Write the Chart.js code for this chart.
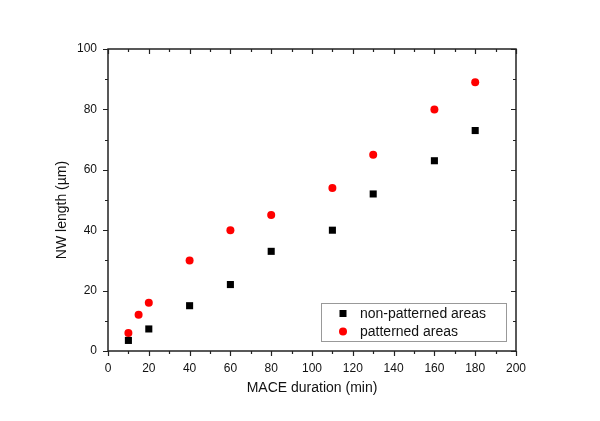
<!DOCTYPE html>
<html>
<head>
<meta charset="utf-8">
<script src="https://cdn.jsdelivr.net/npm/chart.js@4/dist/chart.umd.min.js"></script>
<style>
html,body{margin:0;padding:0;background:#fff;}
#wrap{width:600px;height:421px;}
</style>
</head>
<body>
<div id="wrap"><canvas id="c" width="600" height="421"></canvas></div>
<script>
// Data
const nonPatternedX = [10, 20, 40, 60, 80, 110, 130, 160, 180];
const nonPatternedY = [3.5, 7.3, 15, 22, 33, 40, 52, 63, 73];
const patternedX = [10, 15, 20, 40, 60, 80, 110, 130, 160, 180];
const patternedY = [6, 12, 16, 30, 40, 45, 54, 65, 80, 89];
const xTicks = [0, 20, 40, 60, 80, 100, 120, 140, 160, 180, 200];
const yTicks = [0, 20, 40, 60, 80, 100];
const seriesNames = ['non-patterned areas', 'patterned areas'];
const xTitle = 'MACE duration (min)';
const yTitle = 'NW length (\u00b5m)';

const FONT = "'Liberation Sans', Arial, sans-serif";

const framePlugin = {
  id: 'frame',
  afterDatasetsDraw(chart) {
    const ctx = chart.ctx;
    const a = chart.chartArea;
    const xs = chart.scales.x, ys = chart.scales.y;
    ctx.save();
    ctx.strokeStyle = '#222';
    ctx.lineWidth = 1.5;
    ctx.strokeRect(a.left, a.top, a.right - a.left, a.bottom - a.top);
    ctx.lineWidth = 1.2;
    ctx.beginPath();
    // x ticks (major every 20, minor every 10)
    for (let v = xs.min; v <= xs.max; v += 10) {
      const px = Math.round(xs.getPixelForValue(v)) + 0.5;
      const major = (v % 20 === 0);
      const len = major ? 5 : 3;
      ctx.moveTo(px, a.bottom); ctx.lineTo(px, a.bottom + len);
      ctx.moveTo(px, a.top); ctx.lineTo(px, a.top + len);
    }
    for (let v = ys.min; v <= ys.max; v += 10) {
      const py = Math.round(ys.getPixelForValue(v)) + 0.5;
      const major = (v % 20 === 0);
      const len = major ? 5 : 3;
      ctx.moveTo(a.left, py); ctx.lineTo(a.left - len, py);
      ctx.moveTo(a.right, py); ctx.lineTo(a.right - len, py);
    }
    ctx.stroke();

    // y title
    ctx.fillStyle = '#111';
    ctx.font = '14px ' + FONT;
    ctx.textAlign = 'center';
    ctx.textBaseline = 'middle';
    ctx.save();
    ctx.translate(62, 210);
    ctx.rotate(-Math.PI / 2);
    ctx.fillText(yTitle, 0, 0);
    ctx.restore();

    // legend
    const lx = 321, ly = 303, lw = 185, lh = 38;
    ctx.strokeStyle = '#999';
    ctx.lineWidth = 1;
    ctx.strokeRect(lx + 0.5, ly + 0.5, lw, lh);
    ctx.textAlign = 'left';
    ctx.font = '14px ' + FONT;
    const rows = [313.5, 331.5];
    chart.data.datasets.forEach((ds, i) => {
      const y = rows[i];
      ctx.fillStyle = ds.backgroundColor;
      if (ds.pointStyle === 'rect') {
        ctx.fillRect(339.5, y - 3.5, 7, 7);
      } else {
        ctx.beginPath();
        ctx.arc(343, y, 4, 0, Math.PI * 2);
        ctx.fill();
      }
      ctx.fillStyle = '#111';
      ctx.fillText(ds.label, 360, y + 1);
    });
    ctx.restore();
  }
};

new Chart(document.getElementById('c'), {
  type: 'scatter',
  data: {
    datasets: [
      {
        label: seriesNames[0],
        data: nonPatternedX.map((x, i) => ({x: x, y: nonPatternedY[i]})),
        pointStyle: 'rect',
        pointRadius: 5,
        pointHoverRadius: 5,
        backgroundColor: '#000',
        borderColor: '#000',
        borderWidth: 0
      },
      {
        label: seriesNames[1],
        data: patternedX.map((x, i) => ({x: x, y: patternedY[i]})),
        pointStyle: 'circle',
        pointRadius: 4,
        pointHoverRadius: 4,
        backgroundColor: '#ff0000',
        borderColor: '#ff0000',
        borderWidth: 0
      }
    ]
  },
  options: {
    responsive: false,
    animation: false,
    devicePixelRatio: 1,
    layout: {padding: {left: 0, right: 84, top: 49, bottom: 0}},
    plugins: {legend: {display: false}, tooltip: {enabled: false}},
    scales: {
      x: {
        type: 'linear', min: 0, max: 200,
        afterBuildTicks: s => { s.ticks = xTicks.map(v => ({value: v})); },
        afterFit: s => { s.height = 70; },
        grid: {display: false, drawTicks: false},
        border: {display: false},
        ticks: {color: '#111', font: {family: FONT, size: 12}, padding: 10, maxRotation: 0, autoSkip: false},
        title: {display: true, text: xTitle, color: '#111', font: {family: FONT, size: 14}, padding: {top: 0, bottom: 24}}
      },
      y: {
        type: 'linear', min: 0, max: 100,
        afterBuildTicks: s => { s.ticks = yTicks.map(v => ({value: v})); },
        afterFit: s => { s.width = 108; },
        grid: {display: false, drawTicks: false},
        border: {display: false},
        ticks: {color: '#111', font: {family: FONT, size: 12}, padding: 11, autoSkip: false}
      }
    }
  },
  plugins: [framePlugin]
});
</script>
</body>
</html>
